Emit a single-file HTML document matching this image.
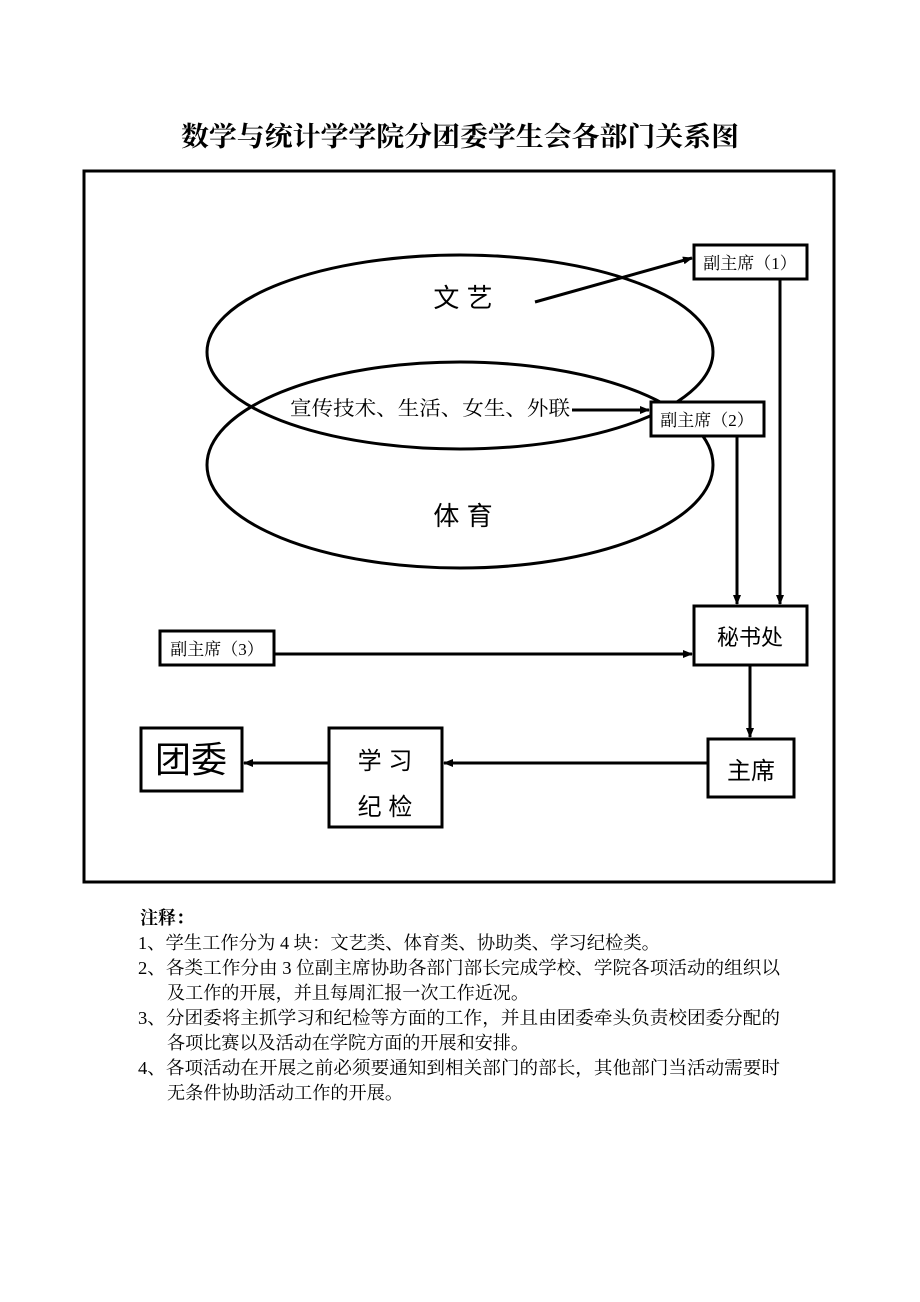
<!DOCTYPE html>
<html><head><meta charset="utf-8"><style>
html,body{margin:0;padding:0;background:#fff;width:920px;height:1302px;overflow:hidden}
svg text{font-family:"Liberation Serif","Noto Serif CJK SC","Noto Sans CJK SC",serif;fill:#000}
.s{font-family:"Liberation Sans","Noto Sans CJK SC",sans-serif}
</style></head><body>
<svg width="920" height="1302" viewBox="0 0 920 1302" xmlns="http://www.w3.org/2000/svg">
<defs><marker id="a" markerWidth="10" markerHeight="8" refX="9" refY="4" orient="auto" markerUnits="userSpaceOnUse"><path d="M0,0 L10,4 L0,8 Z" fill="#000"/></marker></defs>
<text x="181" y="146" font-size="27" font-weight="bold" textLength="558" lengthAdjust="spacingAndGlyphs">数学与统计学学院分团委学生会各部门关系图</text>
<rect x="84" y="171" width="750" height="711" fill="none" stroke="#000" stroke-width="3"/>
<ellipse cx="460" cy="352" rx="253" ry="97" fill="none" stroke="#000" stroke-width="3"/>
<ellipse cx="460" cy="465" rx="253" ry="103" fill="none" stroke="#000" stroke-width="3"/>
<text x="463" y="307" font-size="26" text-anchor="middle" class="s">文 艺</text>
<text x="290" y="415" font-size="20" textLength="280" lengthAdjust="spacingAndGlyphs">宣传技术、生活、女生、外联</text>
<text x="463" y="525" font-size="26" text-anchor="middle" class="s">体 育</text>
<g fill="#fff" stroke="#000" stroke-width="3">
<rect x="694" y="245" width="113" height="34"/>
<rect x="651" y="402" width="113" height="34"/>
<rect x="694" y="606" width="113" height="59"/>
<rect x="160" y="631" width="114" height="34"/>
<rect x="708" y="739" width="86" height="58"/>
<rect x="329" y="728" width="113" height="99"/>
<rect x="141" y="728" width="101" height="63"/>
</g>
<text x="750" y="269" font-size="17" text-anchor="middle">副主席（1）</text>
<text x="707" y="426" font-size="17" text-anchor="middle">副主席（2）</text>
<text x="217" y="655" font-size="17" text-anchor="middle">副主席（3）</text>
<text x="750" y="645" font-size="22" text-anchor="middle" class="s">秘书处</text>
<text x="751" y="779" font-size="24" text-anchor="middle" class="s">主席</text>
<text x="385" y="769" font-size="24" text-anchor="middle" class="s">学 习</text>
<text x="385" y="815" font-size="24" text-anchor="middle" class="s">纪 检</text>
<text x="191" y="772" font-size="36" text-anchor="middle" class="s">团委</text>
<g stroke="#000" stroke-width="3" fill="none" marker-end="url(#a)">
<line x1="535" y1="302" x2="692" y2="258"/>
<line x1="572" y1="410" x2="649" y2="410"/>
<line x1="780" y1="280" x2="780" y2="604"/>
<line x1="737" y1="437" x2="737" y2="604"/>
<line x1="275" y1="654" x2="692" y2="654"/>
<line x1="750" y1="666" x2="750" y2="737"/>
<line x1="707" y1="763" x2="444" y2="763"/>
<line x1="328" y1="763" x2="244" y2="763"/>
</g>
<g font-size="18" lengthAdjust="spacingAndGlyphs">
<text x="140" y="924" font-weight="bold">注释：</text>
<text x="138" y="949" textLength="522" lengthAdjust="spacingAndGlyphs">1、学生工作分为 4 块：文艺类、体育类、协助类、学习纪检类。</text>
<text x="138" y="974" textLength="642" lengthAdjust="spacingAndGlyphs">2、各类工作分由 3 位副主席协助各部门部长完成学校、学院各项活动的组织以</text>
<text x="167" y="999" textLength="362" lengthAdjust="spacingAndGlyphs">及工作的开展，并且每周汇报一次工作近况。</text>
<text x="138" y="1024" textLength="642" lengthAdjust="spacingAndGlyphs">3、分团委将主抓学习和纪检等方面的工作，并且由团委牵头负责校团委分配的</text>
<text x="167" y="1049" textLength="362" lengthAdjust="spacingAndGlyphs">各项比赛以及活动在学院方面的开展和安排。</text>
<text x="138" y="1074" textLength="642" lengthAdjust="spacingAndGlyphs">4、各项活动在开展之前必须要通知到相关部门的部长，其他部门当活动需要时</text>
<text x="167" y="1099" textLength="236" lengthAdjust="spacingAndGlyphs">无条件协助活动工作的开展。</text>
</g>
</svg>
</body></html>
